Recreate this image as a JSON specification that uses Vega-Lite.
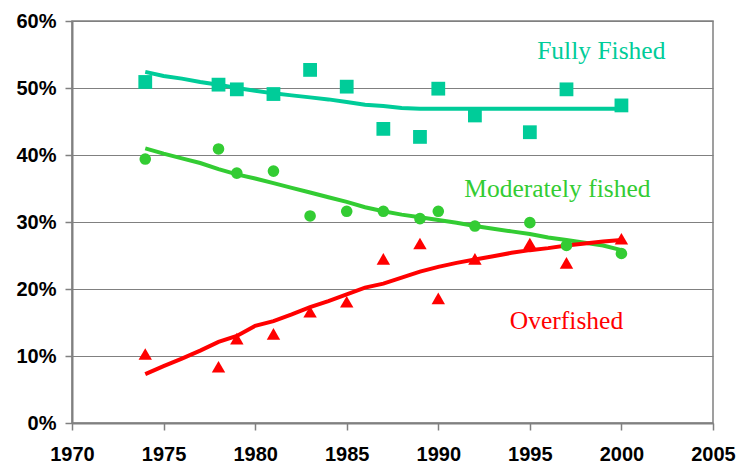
{
  "$schema": "https://vega.github.io/schema/vega-lite/v6.json",
  "width": 641,
  "height": 402,
  "autosize": {"type": "none"},
  "padding": {"left": 72, "top": 21, "right": 27, "bottom": 41},
  "background": "white",
  "config": {
    "view": {"stroke": "#808080", "strokeWidth": 1.5},
    "axis": {
      "labelFont": "Liberation Sans",
      "labelFontWeight": "bold",
      "labelFontSize": 20,
      "labelColor": "#000000",
      "domainColor": "#808080",
      "domainWidth": 2,
      "tickColor": "#808080",
      "tickWidth": 1.5,
      "tickSize": 7,
      "title": null
    }
  },
  "datasets": {
    "obs": [
      {"series": "Fully Fished", "year": 1974, "value": 50.9},
      {"series": "Fully Fished", "year": 1978, "value": 50.5},
      {"series": "Fully Fished", "year": 1979, "value": 49.8},
      {"series": "Fully Fished", "year": 1981, "value": 49.1},
      {"series": "Fully Fished", "year": 1983, "value": 52.7},
      {"series": "Fully Fished", "year": 1985, "value": 50.2},
      {"series": "Fully Fished", "year": 1987, "value": 43.9},
      {"series": "Fully Fished", "year": 1989, "value": 42.7},
      {"series": "Fully Fished", "year": 1990, "value": 49.9},
      {"series": "Fully Fished", "year": 1992, "value": 45.9},
      {"series": "Fully Fished", "year": 1995, "value": 43.4},
      {"series": "Fully Fished", "year": 1997, "value": 49.8},
      {"series": "Fully Fished", "year": 2000, "value": 47.4},
      {"series": "Moderately fished", "year": 1974, "value": 39.4},
      {"series": "Moderately fished", "year": 1978, "value": 40.9},
      {"series": "Moderately fished", "year": 1979, "value": 37.3},
      {"series": "Moderately fished", "year": 1981, "value": 37.6},
      {"series": "Moderately fished", "year": 1983, "value": 30.9},
      {"series": "Moderately fished", "year": 1985, "value": 31.6},
      {"series": "Moderately fished", "year": 1987, "value": 31.6},
      {"series": "Moderately fished", "year": 1989, "value": 30.5},
      {"series": "Moderately fished", "year": 1990, "value": 31.6},
      {"series": "Moderately fished", "year": 1992, "value": 29.4},
      {"series": "Moderately fished", "year": 1995, "value": 29.9},
      {"series": "Moderately fished", "year": 1997, "value": 26.5},
      {"series": "Moderately fished", "year": 2000, "value": 25.3},
      {"series": "Overfished", "year": 1974, "value": 10.3},
      {"series": "Overfished", "year": 1978, "value": 8.4},
      {"series": "Overfished", "year": 1979, "value": 12.6},
      {"series": "Overfished", "year": 1981, "value": 13.3},
      {"series": "Overfished", "year": 1983, "value": 16.6},
      {"series": "Overfished", "year": 1985, "value": 18.1},
      {"series": "Overfished", "year": 1987, "value": 24.5},
      {"series": "Overfished", "year": 1989, "value": 26.8},
      {"series": "Overfished", "year": 1990, "value": 18.6},
      {"series": "Overfished", "year": 1992, "value": 24.5},
      {"series": "Overfished", "year": 1995, "value": 26.8},
      {"series": "Overfished", "year": 1997, "value": 23.9},
      {"series": "Overfished", "year": 2000, "value": 27.5}
    ],
    "trend": [
      {"series": "Fully Fished", "year": 1974, "value": 52.4},
      {"series": "Fully Fished", "year": 1975, "value": 51.8},
      {"series": "Fully Fished", "year": 1976, "value": 51.4},
      {"series": "Fully Fished", "year": 1977, "value": 50.9},
      {"series": "Fully Fished", "year": 1978, "value": 50.5},
      {"series": "Fully Fished", "year": 1979, "value": 50.0},
      {"series": "Fully Fished", "year": 1980, "value": 49.6},
      {"series": "Fully Fished", "year": 1981, "value": 49.2},
      {"series": "Fully Fished", "year": 1982, "value": 48.9},
      {"series": "Fully Fished", "year": 1983, "value": 48.6},
      {"series": "Fully Fished", "year": 1984, "value": 48.3},
      {"series": "Fully Fished", "year": 1985, "value": 47.9},
      {"series": "Fully Fished", "year": 1986, "value": 47.5},
      {"series": "Fully Fished", "year": 1987, "value": 47.3},
      {"series": "Fully Fished", "year": 1988, "value": 47.0},
      {"series": "Fully Fished", "year": 1989, "value": 46.9},
      {"series": "Fully Fished", "year": 1992, "value": 46.9},
      {"series": "Fully Fished", "year": 1995, "value": 46.9},
      {"series": "Fully Fished", "year": 2000, "value": 46.9},
      {"series": "Moderately fished", "year": 1974, "value": 41.0},
      {"series": "Moderately fished", "year": 1975, "value": 40.2},
      {"series": "Moderately fished", "year": 1976, "value": 39.5},
      {"series": "Moderately fished", "year": 1977, "value": 38.8},
      {"series": "Moderately fished", "year": 1978, "value": 37.9},
      {"series": "Moderately fished", "year": 1979, "value": 37.1},
      {"series": "Moderately fished", "year": 1980, "value": 36.5},
      {"series": "Moderately fished", "year": 1981, "value": 35.8},
      {"series": "Moderately fished", "year": 1982, "value": 35.1},
      {"series": "Moderately fished", "year": 1983, "value": 34.4},
      {"series": "Moderately fished", "year": 1984, "value": 33.7},
      {"series": "Moderately fished", "year": 1985, "value": 33.0},
      {"series": "Moderately fished", "year": 1986, "value": 32.2},
      {"series": "Moderately fished", "year": 1987, "value": 31.6},
      {"series": "Moderately fished", "year": 1988, "value": 31.1},
      {"series": "Moderately fished", "year": 1989, "value": 30.7},
      {"series": "Moderately fished", "year": 1990, "value": 30.3},
      {"series": "Moderately fished", "year": 1991, "value": 29.9},
      {"series": "Moderately fished", "year": 1992, "value": 29.4},
      {"series": "Moderately fished", "year": 1993, "value": 29.0},
      {"series": "Moderately fished", "year": 1994, "value": 28.6},
      {"series": "Moderately fished", "year": 1995, "value": 28.2},
      {"series": "Moderately fished", "year": 1996, "value": 27.7},
      {"series": "Moderately fished", "year": 1997, "value": 27.3},
      {"series": "Moderately fished", "year": 1998, "value": 26.9},
      {"series": "Moderately fished", "year": 1999, "value": 26.5},
      {"series": "Moderately fished", "year": 2000, "value": 25.8},
      {"series": "Overfished", "year": 1974, "value": 7.3},
      {"series": "Overfished", "year": 1975, "value": 8.5},
      {"series": "Overfished", "year": 1976, "value": 9.6},
      {"series": "Overfished", "year": 1977, "value": 10.8},
      {"series": "Overfished", "year": 1978, "value": 12.1},
      {"series": "Overfished", "year": 1979, "value": 13.0},
      {"series": "Overfished", "year": 1980, "value": 14.5},
      {"series": "Overfished", "year": 1981, "value": 15.2},
      {"series": "Overfished", "year": 1982, "value": 16.2},
      {"series": "Overfished", "year": 1983, "value": 17.3},
      {"series": "Overfished", "year": 1984, "value": 18.2},
      {"series": "Overfished", "year": 1985, "value": 19.2},
      {"series": "Overfished", "year": 1986, "value": 20.2},
      {"series": "Overfished", "year": 1987, "value": 20.8},
      {"series": "Overfished", "year": 1988, "value": 21.7},
      {"series": "Overfished", "year": 1989, "value": 22.6},
      {"series": "Overfished", "year": 1990, "value": 23.3},
      {"series": "Overfished", "year": 1991, "value": 23.9},
      {"series": "Overfished", "year": 1992, "value": 24.4},
      {"series": "Overfished", "year": 1993, "value": 24.9},
      {"series": "Overfished", "year": 1994, "value": 25.4},
      {"series": "Overfished", "year": 1995, "value": 25.8},
      {"series": "Overfished", "year": 1996, "value": 26.1},
      {"series": "Overfished", "year": 1997, "value": 26.5},
      {"series": "Overfished", "year": 1998, "value": 26.8},
      {"series": "Overfished", "year": 1999, "value": 27.1},
      {"series": "Overfished", "year": 2000, "value": 27.3}
    ],
    "labels": [
      {"series": "Fully Fished", "year": 1998.9, "value": 54.4},
      {"series": "Moderately fished", "year": 1996.5, "value": 33.7},
      {"series": "Overfished", "year": 1997.0, "value": 14.0}
    ]
  },
  "encoding": {
    "x": {
      "field": "year",
      "type": "quantitative",
      "scale": {"domain": [1970, 2005], "nice": false, "zero": false},
      "axis": {"values": [1970, 1975, 1980, 1985, 1990, 1995, 2000, 2005], "format": "d", "grid": false, "labelPadding": 14, "labelDx": 4, "labelFlush": false}
    },
    "y": {
      "field": "value",
      "type": "quantitative",
      "scale": {"domain": [0, 60], "nice": false},
      "axis": {"values": [0, 10, 20, 30, 40, 50, 60], "labelExpr": "datum.value + '%'", "grid": true, "gridColor": "#808080", "gridWidth": 1, "gridOpacity": 1, "labelPadding": 9, "labelFlush": false}
    },
    "color": {
      "field": "series",
      "type": "nominal",
      "scale": {"domain": ["Fully Fished", "Moderately fished", "Overfished"], "range": ["#00CC99", "#33CC33", "#FF0000"]},
      "legend": null
    }
  },
  "layer": [
    {
      "data": {"name": "trend"},
      "mark": {"type": "line", "strokeWidth": 4, "interpolate": "linear"},
      "encoding": {"detail": {"field": "series"}}
    },
    {
      "data": {"name": "obs"},
      "transform": [{"filter": "datum.series === 'Fully Fished'"}],
      "mark": {"type": "point", "shape": "square", "filled": true, "opacity": 1, "size": 190}
    },
    {
      "data": {"name": "obs"},
      "transform": [{"filter": "datum.series === 'Moderately fished'"}],
      "mark": {"type": "point", "shape": "circle", "filled": true, "opacity": 1, "size": 135}
    },
    {
      "data": {"name": "obs"},
      "transform": [{"filter": "datum.series === 'Overfished'"}],
      "mark": {"type": "point", "shape": "triangle-up", "filled": true, "opacity": 1, "size": 180}
    },
    {
      "data": {"name": "labels"},
      "mark": {"type": "text", "font": "Liberation Serif", "fontSize": 25.5, "align": "center", "baseline": "alphabetic"},
      "encoding": {"text": {"field": "series"}}
    }
  ]
}
